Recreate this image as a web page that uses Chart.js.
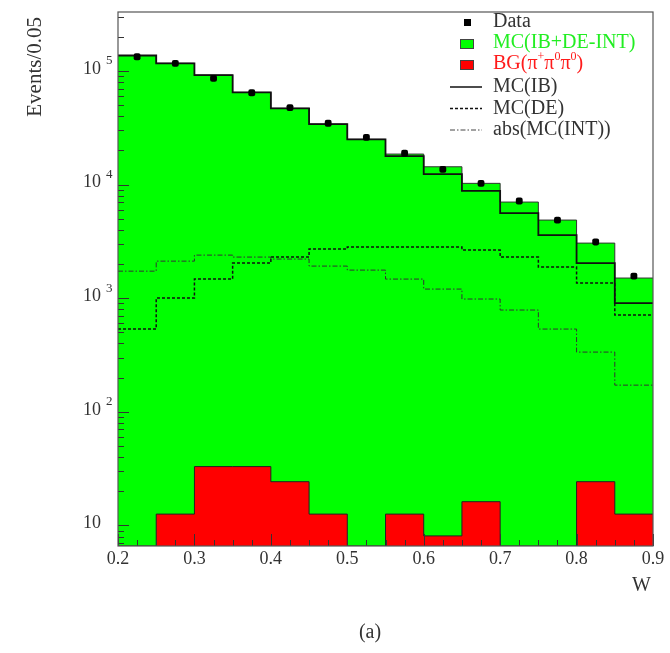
<!DOCTYPE html>
<html>
<head>
<meta charset="utf-8">
<script src="https://cdn.jsdelivr.net/npm/chart.js@4"></script>
<style>
  html, body { margin: 0; padding: 0; background: #fff; }
  #c { display: block; }
</style>
</head>
<body>
<canvas id="c" width="670" height="653"></canvas>
<script>
// bin edges in W (0.05 wide bins)
const binEdges = [0.2, 0.25, 0.3, 0.35, 0.4, 0.45, 0.5, 0.55, 0.6, 0.65, 0.7, 0.75, 0.8, 0.85, 0.9];
// events per bin
const dataCounts = [133600, 117000, 86200, 64400, 47600, 34700, 26100, 18900, 13640, 10270, 7180, 4880, 3130, 1566];
const mcTotal    = [137000, 117000, 92200, 64900, 47000, 34150, 25050, 18600, 14370, 10270, 7030, 4880, 3060, 1507];
const mcIB       = [137000, 117000, 92200, 64900, 47000, 34150, 25050, 17860, 12380, 8830, 5620, 3600, 2040, 908];
const mcDE       = [536, 1005, 1476, 2042, 2305, 2711, 2823, 2823, 2823, 2657, 2305, 1884, 1362, 711];
const mcINT      = [1733, 2123, 2398, 2305, 2214, 1920, 1770, 1476, 1205, 985, 788, 536, 336, 172];
const bgCounts   = [0, 12.6, 33, 33, 24.3, 12.6, 0, 12.6, 8.1, 16.2, 0, 0, 24.3, 12.6];

const xTickLabels = ["0.2", "0.3", "0.4", "0.5", "0.6", "0.7", "0.8", "0.9"];
const yMin = 6.6, yMax = 3.31e5;

const SERIF = '"Liberation Serif", "DejaVu Serif", serif';

// step histogram: one point per left edge, plus the closing right edge
function histo(vals) {
  return binEdges.map((e, i) => {
    const v = vals[Math.min(i, vals.length - 1)];
    return { x: e, y: v > 0 ? v : yMin };
  });
}
const centers = dataCounts.map((v, i) => ({ x: (binEdges[i] + binEdges[i + 1]) / 2, y: v }));

const decorations = {
  id: 'decorations',
  afterDatasetsDraw(chart) {
    const ctx = chart.ctx;
    const a = chart.chartArea;
    const xs = chart.scales.x, ys = chart.scales.y;
    ctx.save();

    // y ticks, pointing inward
    ctx.strokeStyle = '#333';
    ctx.lineWidth = 1;
    ys.ticks.forEach(t => {
      const py = Math.round(ys.getPixelForValue(t.value)) + 0.5;
      const len = t.major ? 11 : 6;
      ctx.beginPath();
      ctx.moveTo(a.left, py);
      ctx.lineTo(a.left + len, py);
      ctx.stroke();
    });
    // x ticks, pointing inward
    xs.ticks.forEach(t => {
      const px = Math.round(xs.getPixelForValue(t.value)) + 0.5;
      const len = t.major ? 12 : 6;
      ctx.beginPath();
      ctx.moveTo(px, a.bottom);
      ctx.lineTo(px, a.bottom - len);
      ctx.stroke();
    });

    // frame
    ctx.strokeStyle = '#555';
    ctx.lineWidth = 1.2;
    ctx.strokeRect(a.left, a.top, a.right - a.left, a.bottom - a.top);

    // y labels 10^n
    ctx.fillStyle = '#333';
    ys.ticks.filter(t => t.major).forEach(t => {
      const py = ys.getPixelForValue(t.value);
      const n = Math.round(Math.log10(t.value));
      ctx.font = '18px ' + SERIF;
      ctx.textAlign = 'right';
      ctx.textBaseline = 'middle';
      ctx.fillText('10', 101, py - 2);
      if (n > 1) {
        ctx.font = '13px ' + SERIF;
        ctx.textAlign = 'left';
        ctx.fillText(String(n), 106, py - 10);
      }
    });

    // x labels
    ctx.font = '18px ' + SERIF;
    ctx.textAlign = 'center';
    ctx.textBaseline = 'middle';
    xs.ticks.filter(t => t.major).forEach((t, i) => {
      ctx.fillText(xTickLabels[i], xs.getPixelForValue(t.value), a.bottom + 13);
    });

    // axis titles
    ctx.font = '20px ' + SERIF;
    ctx.textAlign = 'right';
    ctx.fillText('W', a.right - 2, 586);
    ctx.textAlign = 'center';
    ctx.fillText('(a)', 370, 633);
    ctx.save();
    ctx.translate(35, 17);
    ctx.rotate(-Math.PI / 2);
    ctx.textAlign = 'right';
    ctx.font = '21px ' + SERIF;
    ctx.fillText('Events/0.05', 0, 0);
    ctx.restore();

    // legend
    const tx = 493;
    ctx.textAlign = 'left';
    ctx.font = '20px ' + SERIF;
    // Data
    ctx.fillStyle = '#000';
    ctx.fillRect(464, 19, 7, 7);
    ctx.fillStyle = '#333';
    ctx.fillText('Data', tx, 22);
    // MC(IB+DE-INT)
    ctx.fillStyle = '#00ff00';
    ctx.fillRect(460, 39, 13, 9);
    ctx.strokeStyle = '#444';
    ctx.lineWidth = 1;
    ctx.strokeRect(460.5, 39.5, 13, 9);
    ctx.fillStyle = '#22ee22';
    ctx.fillText('MC(IB+DE-INT)', tx, 43);
    // BG
    ctx.fillStyle = '#ff0000';
    ctx.fillRect(460, 60, 13, 9);
    ctx.strokeRect(460.5, 60.5, 13, 9);
    ctx.fillStyle = '#ff1a1a';
    let x = tx;
    const part = (s, sup) => {
      ctx.font = (sup ? '12px ' : '20px ') + SERIF;
      ctx.fillText(s, x, sup ? 57 : 64);
      x += ctx.measureText(s).width;
    };
    part('BG(\u03c0'); part('+', true); part('\u03c0'); part('0', true); part('\u03c0'); part('0', true); part(')');
    // line entries
    ctx.font = '20px ' + SERIF;
    ctx.fillStyle = '#333';
    const lineEntry = (y, dash, w, col, label) => {
      ctx.strokeStyle = col;
      ctx.lineWidth = w;
      ctx.setLineDash(dash);
      ctx.beginPath();
      ctx.moveTo(450, y);
      ctx.lineTo(482, y);
      ctx.stroke();
      ctx.setLineDash([]);
      ctx.fillText(label, tx, y);
    };
    lineEntry(87, [], 1.5, '#111', 'MC(IB)');
    lineEntry(108.5, [3, 2], 1.5, '#111', 'MC(DE)');
    lineEntry(130, [5, 2, 1.5, 2], 1, '#444', 'abs(MC(INT))');

    ctx.restore();
  }
};

new Chart(document.getElementById('c'), {
  type: 'line',
  data: {
    datasets: [
      {
        label: 'Data',
        data: centers,
        showLine: false,
        pointStyle: 'rectRounded',
        pointRadius: 4,
        pointBackgroundColor: '#000',
        pointBorderWidth: 0,
        order: 0
      },
      {
        label: 'abs(MC(INT))',
        data: histo(mcINT),
        stepped: true,
        borderColor: '#333',
        borderWidth: 1,
        borderDash: [5, 2, 1.5, 2],
        pointRadius: 0,
        fill: false,
        order: 1
      },
      {
        label: 'MC(DE)',
        data: histo(mcDE),
        stepped: true,
        borderColor: '#111',
        borderWidth: 1.5,
        borderDash: [3, 2],
        pointRadius: 0,
        fill: false,
        order: 2
      },
      {
        label: 'MC(IB)',
        data: histo(mcIB),
        stepped: true,
        borderColor: '#111',
        borderWidth: 1.8,
        pointRadius: 0,
        fill: false,
        order: 3
      },
      {
        label: 'BG',
        data: histo(bgCounts),
        stepped: true,
        borderColor: '#222',
        borderWidth: 1,
        backgroundColor: '#ff0000',
        pointRadius: 0,
        fill: 'start',
        order: 4
      },
      {
        label: 'MC(IB+DE-INT)',
        data: histo(mcTotal),
        stepped: true,
        borderColor: '#333',
        borderWidth: 1,
        backgroundColor: '#00ff00',
        pointRadius: 0,
        fill: 'start',
        order: 5
      }
    ]
  },
  options: {
    responsive: false,
    animation: false,
    events: [],
    layout: { padding: { top: 12, right: 17, left: 0, bottom: 0 } },
    plugins: { legend: { display: false }, tooltip: { enabled: false } },
    scales: {
      x: {
        type: 'linear',
        min: 0.2,
        max: 0.9,
        afterBuildTicks(scale) {
          const t = [];
          for (let k = 0; k <= 28; k++) {
            t.push({ value: 0.2 + k * 0.025, major: k % 4 === 0 });
          }
          scale.ticks = t;
        },
        ticks: { display: false },
        grid: { display: false },
        border: { display: false },
        afterFit(scale) { scale.height = 107; }
      },
      y: {
        type: 'logarithmic',
        min: yMin,
        max: yMax,
        afterBuildTicks(scale) {
          const t = [];
          for (let n = 0; n <= 5; n++) {
            for (let m = 1; m <= 9; m++) {
              const v = m * Math.pow(10, n);
              if (v >= yMin && v <= yMax) t.push({ value: v, major: m === 1 });
            }
          }
          scale.ticks = t;
        },
        ticks: { display: false },
        grid: { display: false },
        border: { display: false },
        afterFit(scale) { scale.width = 118; }
      }
    }
  },
  plugins: [decorations]
});
</script>
</body>
</html>
